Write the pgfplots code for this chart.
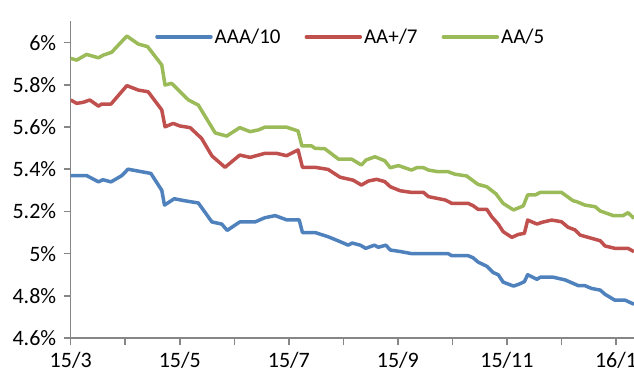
\documentclass[border=0pt]{standalone}
\usepackage{pgfplots}
\pgfplotsset{compat=1.18}
\usepackage{fontspec}
\setmainfont{Carlito}
\definecolor{sblue}{HTML}{4F81BD}
\definecolor{sred}{HTML}{C0504D}
\definecolor{sgreen}{HTML}{9BBB59}
\definecolor{axisgray}{HTML}{868686}
\begin{document}
\begin{tikzpicture}
\useasboundingbox (-70.7pt,-34pt) rectangle (563.3pt,338pt);
\begin{axis}[
  at={(0pt,0pt)}, anchor=south west,
  scale only axis, width=563.3pt, height=316.5pt,
  xmin=0, xmax=10.33, ymin=4.6, ymax=6.1,
  axis x line*=bottom, axis y line*=left,
  axis line style={draw=axisgray, line width=1.5pt},
  tick align=outside,
  major tick length=7pt, minor tick length=7pt,
  every tick/.style={draw=axisgray, line width=1.5pt},
  xtick={0,2,4,6,8,10},
  minor xtick={1,3,5,7,9},
  xticklabels={15/3,15/5,15/7,15/9,15/11,16/1},
  ytick={4.6,4.8,5.0,5.2,5.4,5.6,5.8,6.0},
  yticklabel={\pgfmathprintnumber[fixed,precision=1]{\tick}\%},
  /pgf/number format/assume math mode=true,
  ticklabel style={font=\fontsize{22}{26}\selectfont, text=black},
  yticklabel style={xshift=-4pt},
  xticklabel style={yshift=-4pt},
  legend columns=3,
  legend style={draw=none, fill=none, at={(0.1497,0.951)}, anchor=west,
    inner sep=0pt, font=\fontsize{21}{25}\selectfont,
    column sep=0pt,
    /tikz/every odd column/.append style={column sep=2pt},
    /tikz/every even column/.append style={column sep=24pt},
    nodes={inner sep=0pt}},
  legend image code/.code={\draw[#1, line width=3.5pt, line cap=round] (0pt,0pt) -- (54pt,0pt);},
  every axis plot/.append style={line width=3.5pt, line join=round, no markers},
]
\addplot[sblue] coordinates {
(0,5.37) (0.29,5.37) (0.51,5.34) (0.59,5.35) (0.74,5.34) (0.94,5.37) (1.05,5.40)
(1.47,5.38) (1.67,5.30) (1.72,5.23) (1.90,5.26) (2.10,5.25) (2.34,5.24) (2.59,5.15)
(2.77,5.14) (2.87,5.11) (3.10,5.15) (3.38,5.15) (3.56,5.17) (3.75,5.18) (3.96,5.16)
(4.19,5.16) (4.25,5.10) (4.48,5.10) (4.72,5.08) (4.91,5.06) (5.09,5.04) (5.16,5.05)
(5.31,5.04) (5.41,5.025) (5.57,5.04) (5.64,5.03) (5.78,5.04) (5.86,5.017) (6.04,5.01)
(6.25,5.00) (6.92,5.00) (6.99,4.99) (7.29,4.99) (7.38,4.98) (7.47,4.96) (7.63,4.94)
(7.75,4.91) (7.84,4.90) (7.93,4.865) (8.12,4.846) (8.21,4.854) (8.32,4.867) (8.38,4.90)
(8.55,4.878) (8.61,4.888) (8.85,4.888) (9.07,4.875) (9.31,4.848) (9.43,4.848) (9.55,4.835)
(9.71,4.827) (9.80,4.807) (9.98,4.779) (10.17,4.779) (10.33,4.76)
};
\addlegendentry{AAA/10}
\addplot[sred] coordinates {
(0,5.728) (0.11,5.712) (0.23,5.717) (0.35,5.728) (0.51,5.699) (0.57,5.709) (0.74,5.709)
(1.03,5.796) (1.24,5.775) (1.42,5.767) (1.67,5.681) (1.73,5.601) (1.88,5.617) (2.00,5.605)
(2.19,5.597) (2.40,5.546) (2.59,5.463) (2.83,5.409) (3.10,5.467) (3.29,5.456) (3.56,5.475)
(3.78,5.475) (3.96,5.464) (4.17,5.491) (4.25,5.409) (4.48,5.409) (4.72,5.399) (4.94,5.362)
(5.18,5.348) (5.33,5.325) (5.46,5.344) (5.61,5.352) (5.76,5.341) (5.86,5.317) (6.04,5.298)
(6.25,5.290) (6.47,5.290) (6.56,5.27) (6.87,5.254) (6.99,5.238) (7.29,5.238) (7.38,5.227)
(7.47,5.21) (7.63,5.21) (7.72,5.175) (7.84,5.14) (7.93,5.104) (8.09,5.077) (8.21,5.091)
(8.32,5.096) (8.38,5.159) (8.55,5.14) (8.64,5.148) (8.82,5.159) (9.00,5.151) (9.12,5.125)
(9.25,5.112) (9.34,5.088) (9.49,5.077) (9.71,5.061) (9.80,5.036) (9.98,5.025) (10.22,5.025)
(10.33,5.009)
};
\addlegendentry{AA+/7}
\addplot[sgreen] coordinates {
(0,5.925) (0.11,5.917) (0.29,5.944) (0.51,5.928) (0.60,5.941) (0.75,5.954) (1.03,6.031)
(1.24,5.993) (1.41,5.981) (1.67,5.894) (1.73,5.799) (1.85,5.807) (2.16,5.728) (2.34,5.704)
(2.46,5.653) (2.65,5.572) (2.86,5.557) (3.10,5.597) (3.29,5.578) (3.44,5.586) (3.56,5.599)
(3.96,5.599) (4.17,5.581) (4.24,5.51) (4.42,5.51) (4.48,5.499) (4.66,5.497) (4.91,5.448)
(5.15,5.448) (5.33,5.42) (5.42,5.444) (5.58,5.459) (5.76,5.44) (5.86,5.407) (6.01,5.417)
(6.25,5.396) (6.345,5.407) (6.47,5.407) (6.56,5.396) (6.74,5.388) (6.92,5.388) (7.05,5.376)
(7.26,5.368) (7.47,5.328) (7.63,5.317) (7.80,5.283) (7.93,5.238) (8.12,5.207) (8.30,5.226)
(8.38,5.278) (8.52,5.278) (8.61,5.29) (9.00,5.29) (9.21,5.251) (9.28,5.246) (9.43,5.23)
(9.62,5.222) (9.71,5.202) (9.95,5.18) (10.13,5.18) (10.22,5.194) (10.33,5.167)
};
\addlegendentry{AA/5}
\end{axis}
\end{tikzpicture}
\end{document}
